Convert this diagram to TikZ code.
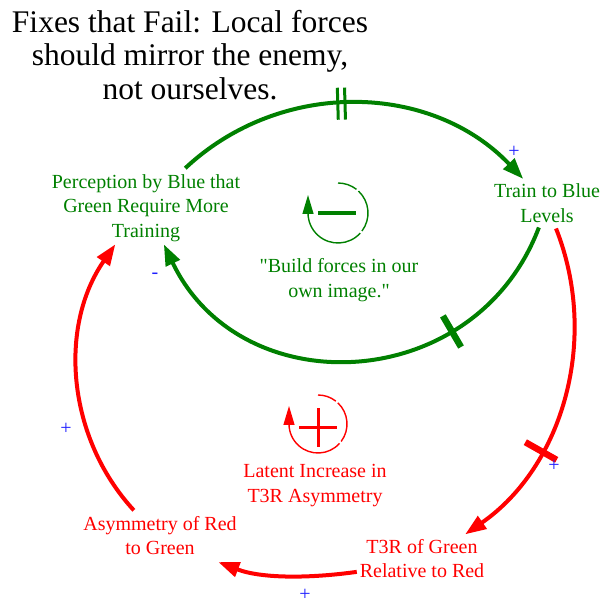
\documentclass[tikz,border=0pt]{standalone}
\usepackage{fontspec}
\setmainfont{Liberation Serif}[Ligatures=TeXOff]
\usetikzlibrary{arrows.meta,decorations.markings,calc}
\definecolor{vgreen}{RGB}{0,128,0}
\definecolor{vred}{RGB}{255,0,0}
\definecolor{vblue}{RGB}{30,30,255}
\begin{document}
\begin{tikzpicture}[x=1pt,y=1pt,
  lbl/.style={align=center,inner sep=3pt,outer sep=0pt,font=\fontsize{20}{24.5}\selectfont},
  glbl/.style={lbl,text=vgreen},
  rlbl/.style={lbl,text=vred},
  pol/.style={text=vblue,inner sep=0pt,font=\fontsize{20}{20}\selectfont},
  link/.style={line width=4pt,-{Triangle[length=21pt,width=15pt]}},
  glink/.style={link,color=vgreen},
  rlink/.style={link,color=vred},
  delaytwo/.style={postaction={decorate},decoration={markings,mark=at position #1 with {
      \draw[-,line width=3pt] (-3.6pt,-16pt) -- (-3.6pt,16pt);
      \draw[-,line width=3pt] (3.6pt,-16pt) -- (3.6pt,16pt);}}},
  delayone/.style={postaction={decorate},decoration={markings,mark=at position #1 with {
      \draw[-,line width=6.5pt] (0pt,-18pt) -- (0pt,18pt);}}},
  loopsym/.style={line width=1.4pt,-{Triangle[length=19pt,width=11pt]}},
  signbar/.style={line width=3.3pt}
]
\useasboundingbox (0,0) rectangle (601,605);

% title
\node[align=center,inner sep=0pt,font=\fontsize{31.5}{33.5}\selectfont] (title) at (190,550.3)
  {Fixes that Fail: Local forces\\should mirror the enemy,\\not ourselves.};

% variables
\node[glbl] (perc) at (146,397.2) {Perception by Blue that\\Green Require More\\Training};
\node[glbl] (train) at (547,401.8) {Train to Blue\\Levels};
\node[rlbl] (t3r) at (422,46.3) {T3R of Green\\Relative to Red};
\node[rlbl] (asym) at (160,69.3) {Asymmetry of Red\\to Green};

% loop labels
\node[glbl] (build) at (339,324.7) {"Build forces in our\\own image."};
\node[rlbl] (latent) at (315,119.7) {Latent Increase in\\T3R Asymmetry};

% links
\draw[glink,delaytwo=0.46] ([yshift=3pt]perc.43.1) to[out=43.1,in=133.5,looseness=1.0] ([xshift=-3pt,yshift=2pt]train.133.5);
\draw[glink,delayone=0.29] ([yshift=-2pt]train.-110.7) to[out=-110.7,in=-64.4,looseness=1.22] (perc.-64.4);
\draw[rlink,delayone=0.67] ([yshift=-3pt]train.-68.4) to[out=-68.4,in=34.8,looseness=0.955] ([xshift=10pt,yshift=2pt]t3r.34.8);
\draw[rlink] ([yshift=-4pt]t3r.188) to[out=188,in=-21,looseness=0.86] ([yshift=-4pt]asym.-21);
\draw[rlink] ([xshift=-6pt,yshift=3pt]asym.132.6) to[out=132.6,in=-124.8,looseness=0.956] ([xshift=-6pt]perc.-124.8);

% polarities
\node[pol] (s1) at (514,453) {+};
\node[pol] (s2) at (155,329.5) {-};
\node[pol] (s3) at (554,139.3) {+};
\node[pol] (s4) at (305,10) {+};
\node[pol] (s5) at (66,176) {+};

% loop symbols
\begin{scope}[color=vgreen]
  \draw[line width=1.4pt] (338,422) arc[start angle=90,end angle=52,radius=30];
  \draw[line width=1.4pt] (338,392) ++(47:30) arc[start angle=47,end angle=-37,radius=30];
  \draw[loopsym] (338,392) ++(-42:30) arc[start angle=-42,end angle=-180,radius=30] -- ++(0,18);
  \draw[signbar] (318,392) -- (356,392);
\end{scope}
\begin{scope}[color=vred]
  \draw[line width=1.4pt] (318,210) arc[start angle=90,end angle=52,radius=29];
  \draw[line width=1.4pt] (318,181) ++(47:29) arc[start angle=47,end angle=-37,radius=29];
  \draw[loopsym] (318,181) ++(-42:29) arc[start angle=-42,end angle=-180,radius=29] -- ++(0,18);
  \draw[line width=3pt] (299,177.5) -- (337,177.5);
  \draw[line width=3pt] (318,158) -- (318,197);
\end{scope}
\end{tikzpicture}
\end{document}
